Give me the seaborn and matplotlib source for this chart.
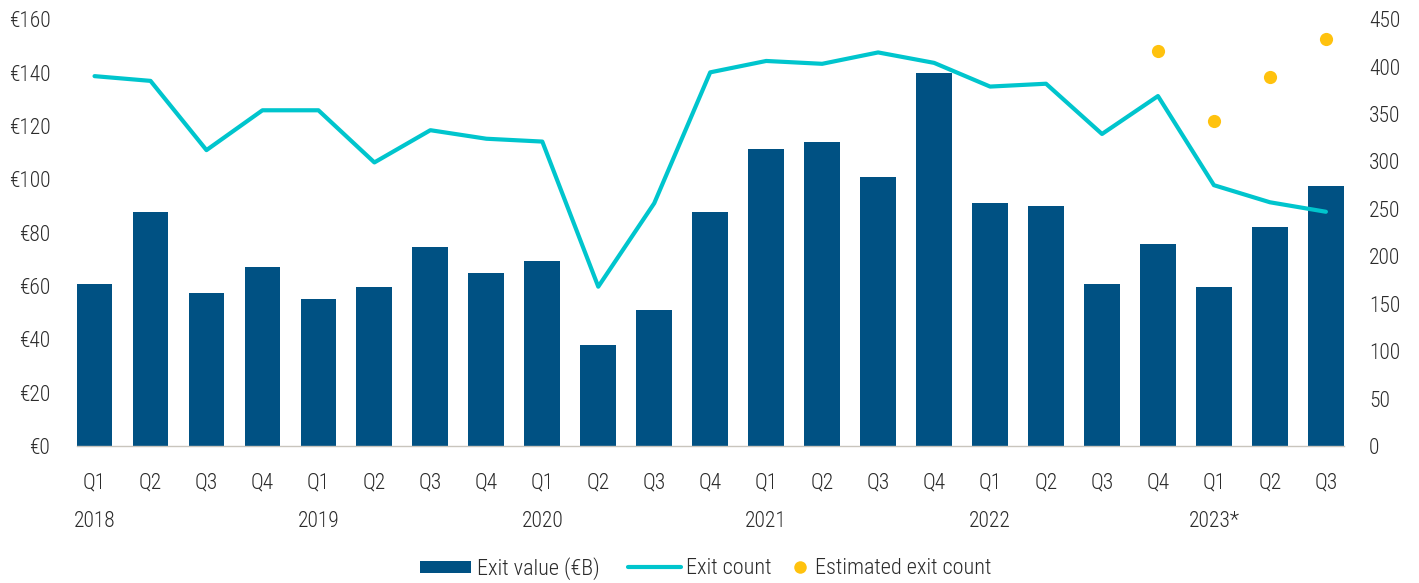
import numpy as np
import pandas as pd
import matplotlib
matplotlib.use("Agg")
import matplotlib.pyplot as plt
from matplotlib.lines import Line2D
from matplotlib.patches import Patch
import seaborn as sns

# Quarterly exit activity, 2018 Q1 – 2023 Q3
quarters = ["Q1", "Q2", "Q3", "Q4"] * 5 + ["Q1", "Q2", "Q3"]
years = ["2018"] * 4 + ["2019"] * 4 + ["2020"] * 4 + ["2021"] * 4 + ["2022"] * 4 + ["2023*"] * 3
year_labels = ["2018", "2019", "2020", "2021", "2022", "2023*"]

exit_value = [60.6, 87.7, 57.2, 67.0, 55.0, 59.5, 74.6, 64.8,
              69.2, 37.7, 50.8, 87.7, 111.5, 113.8, 100.7, 140.0,
              91.0, 89.8, 60.6, 75.7, 59.5, 82.2, 97.4]
exit_count = [390, 385, 312, 354, 354, 299, 333, 324,
              321, 168, 256, 394, 406, 403, 415, 404,
              379, 382, 329, 369, 275, 257, 247]

est_periods = ["2022 Q4", "2023* Q1", "2023* Q2", "2023* Q3"]
est_count = [416, 343, 389, 429]

periods = [f"{y} {q}" for y, q in zip(years, quarters)]
df = pd.DataFrame({"period": periods, "value": exit_value,
                   "count": exit_count, "pos": np.arange(len(periods))})
est = pd.DataFrame({"pos": [periods.index(p) for p in est_periods],
                    "count": est_count})

BAR = "#005183"
LINE = "#00C5CD"
DOT = "#FFC20E"
TEXT = "#2b2b2b"
FS = 15.5
FS_LEG = 16

sns.set_style("white")
plt.rcParams["font.family"] = ["Roboto Condensed", "Liberation Sans Narrow",
                               "Lato", "DejaVu Sans"]
plt.rcParams["font.weight"] = "light"
plt.rcParams["text.color"] = TEXT

fig = plt.figure(figsize=(14.19, 5.83), dpi=100)
ax = fig.add_axes([0.054, 0.235, 0.893, 0.732])

sns.barplot(data=df, x="period", y="value", color=BAR, width=0.64,
            saturation=1, linewidth=0, ax=ax)
ax.set_ylim(0, 160)
ax.set_yticks(np.arange(0, 161, 20))
ax.set_yticklabels([f"€{v}" for v in range(0, 161, 20)])
ax.set_xlim(-0.32, len(periods) - 1 + 0.32)
ax.set_xticks(range(len(periods)))
ax.set_xticklabels(quarters)
ax.set_xlabel("")
ax.set_ylabel("")

ax2 = ax.twinx()
sns.lineplot(data=df, x="pos", y="count", color=LINE, linewidth=3.0,
             ax=ax2, legend=False)
sns.scatterplot(data=est, x="pos", y="count", color=DOT, s=90,
                linewidth=0, ax=ax2, legend=False, zorder=5)
ax2.set_ylim(0, 450)
ax2.set_yticks(np.arange(0, 451, 50))
ax2.set_xlim(-0.32, len(periods) - 1 + 0.32)
ax2.set_xlabel("")
ax2.set_ylabel("")

for a in (ax, ax2):
    for side in ("top", "left", "right", "bottom"):
        a.spines[side].set_visible(False)
    a.tick_params(length=0, labelsize=FS, colors=TEXT)
ax.spines["bottom"].set_visible(True)
ax.spines["bottom"].set_color("#c9c5bd")
ax.spines["bottom"].set_linewidth(1.0)
ax.tick_params(axis="y", pad=19)
ax.tick_params(axis="x", pad=19)
ax2.tick_params(axis="y", pad=18)

# Year labels beneath each year's first quarter
for y in year_labels:
    i = years.index(y)
    ax.annotate(y, xy=(i, 0), xycoords=("data", "axes fraction"),
                xytext=(0, -76), textcoords="offset pixels",
                ha="center", va="center", fontsize=FS, color=TEXT)

# Legend entries laid out along the bottom edge
legend_y = 1 - 569 / 583
entries = [
    (Patch(facecolor=BAR, edgecolor="none", label="Exit value (€B)"), 420, 2.3, 0.45, 0.27),
    (Line2D([0], [0], color=LINE, lw=3.0, label="Exit count"), 628, 2.4, 0.7, 0.2),
    (Line2D([0], [0], marker="o", color="none", markerfacecolor=DOT,
            markeredgecolor="none", markersize=9, label="Estimated exit count"), 794, 0.55, 0.7, 0.4),
]
for handle, x0, hl, hh, tp in entries:
    fig.legend(handles=[handle], loc="center left",
               bbox_to_anchor=(x0 / 1419, legend_y), frameon=False,
               fontsize=FS_LEG, handlelength=hl, handleheight=hh,
               handletextpad=tp, borderpad=0, borderaxespad=0)

fig.savefig("out.png", dpi=100)
